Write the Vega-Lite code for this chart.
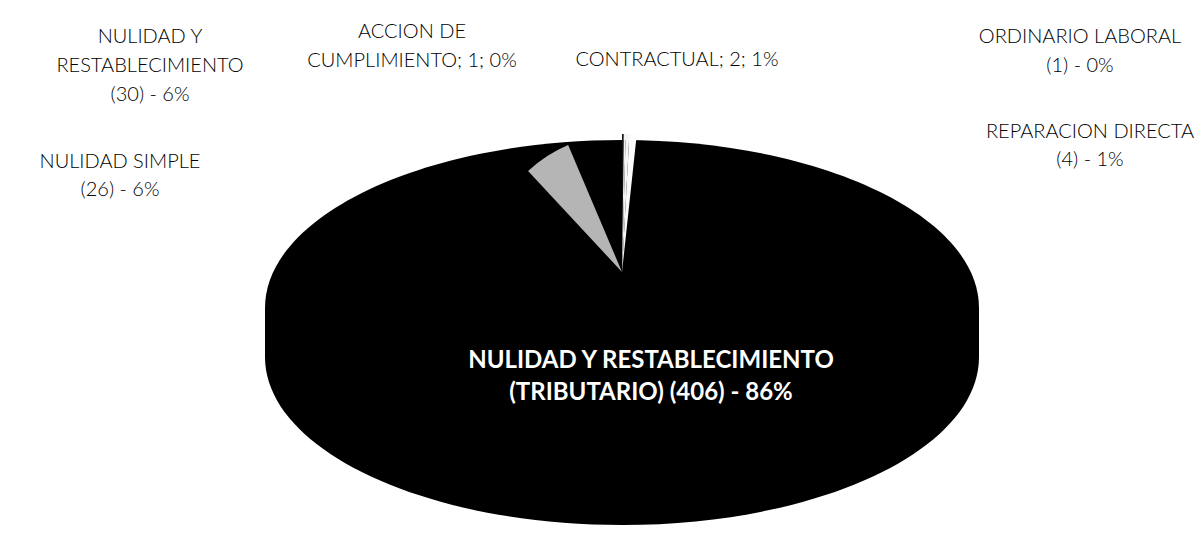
{
  "$schema": "https://vega.github.io/schema/vega-lite/v6.json",
  "width": 1203,
  "height": 554,
  "autosize": {"type": "fit", "contains": "padding"},
  "padding": {"left": 41, "top": 0, "right": 0, "bottom": 10},
  "background": "white",
  "config": {
    "view": {"stroke": null},
    "text": {"font": "Lato", "fontSize": 20, "fontWeight": 300, "color": "#000000", "align": "center", "baseline": "alphabetic", "lineBreak": "\n", "lineHeight": 29}
  },
  "data": {
    "values": [
      {"cat": "ORDINARIO LABORAL", "count": 1, "ord": 1, "label": "ORDINARIO LABORAL\n(1) - 0%"},
      {"cat": "ACCION DE CUMPLIMIENTO", "count": 1, "ord": 2, "label": "ACCION DE\nCUMPLIMIENTO; 1; 0%"},
      {"cat": "CONTRACTUAL", "count": 2, "ord": 3, "label": "CONTRACTUAL; 2; 1%"},
      {"cat": "REPARACION DIRECTA", "count": 4, "ord": 4, "label": "REPARACION DIRECTA\n(4) - 1%"},
      {"cat": "NULIDAD Y RESTABLECIMIENTO (TRIBUTARIO)", "count": 406, "ord": 5, "label": "NULIDAD Y RESTABLECIMIENTO\n(TRIBUTARIO) (406) - 86%"},
      {"cat": "NULIDAD SIMPLE", "count": 26, "ord": 6, "label": "NULIDAD SIMPLE\n(26) - 6%"},
      {"cat": "NULIDAD Y RESTABLECIMIENTO", "count": 30, "ord": 7, "label": "NULIDAD Y\nRESTABLECIMIENTO\n(30) -  6%"}
    ]
  },
  "layer": [
    {
      "transform": [{"aggregate": [{"op": "sum", "field": "count", "as": "total"}]}],
      "mark": {
        "type": "point",
        "filled": true,
        "opacity": 1,
        "color": "black",
        "strokeWidth": 0,
        "size": 40000,
        "shape": "M -3.57 0.36 C -3.57 -0.568 -1.972 -1.32 0 -1.32 C 1.972 -1.32 3.57 -0.568 3.57 0.36 L 3.57 0.85 C 3.57 1.778 1.972 2.53 0 2.53 C -1.972 2.53 -3.57 1.778 -3.57 0.85 Z"
      },
      "encoding": {}
    },
    {
      "mark": {"type": "arc", "radius": 138, "stroke": null},
      "encoding": {
        "theta": {"field": "count", "type": "quantitative", "stack": true},
        "order": {"field": "ord", "type": "quantitative"},
        "color": {
          "field": "cat",
          "type": "nominal",
          "legend": null,
          "scale": {
            "domain": ["ORDINARIO LABORAL", "ACCION DE CUMPLIMIENTO", "CONTRACTUAL", "REPARACION DIRECTA", "NULIDAD Y RESTABLECIMIENTO (TRIBUTARIO)", "NULIDAD SIMPLE", "NULIDAD Y RESTABLECIMIENTO"],
            "range": ["#111111", "#f2f2f2", "#f7f7f7", "#fbfbfb", "transparent", "#b5b5b5", "transparent"]
          }
        }
      }
    },
    {
      "transform": [{"filter": "datum.ord == 7"}],
      "mark": {"type": "text", "dx": -472, "dy": -229},
      "encoding": {"text": {"field": "label"}}
    },
    {
      "transform": [{"filter": "datum.ord == 6"}],
      "mark": {"type": "text", "dx": -502, "dy": -104, "lineHeight": 28},
      "encoding": {"text": {"field": "label"}}
    },
    {
      "transform": [{"filter": "datum.ord == 2"}],
      "mark": {"type": "text", "dx": -210, "dy": -234},
      "encoding": {"text": {"field": "label"}}
    },
    {
      "transform": [{"filter": "datum.ord == 3"}],
      "mark": {"type": "text", "dx": 55, "dy": -206},
      "encoding": {"text": {"field": "label"}}
    },
    {
      "transform": [{"filter": "datum.ord == 1"}],
      "mark": {"type": "text", "dx": 458, "dy": -229},
      "encoding": {"text": {"field": "label"}}
    },
    {
      "transform": [{"filter": "datum.ord == 4"}],
      "mark": {"type": "text", "dx": 468, "dy": -134, "lineHeight": 28},
      "encoding": {"text": {"field": "label"}}
    },
    {
      "transform": [{"filter": "datum.ord == 5"}],
      "mark": {"type": "text", "dx": 29, "dy": 96, "fontSize": 24, "fontWeight": "bold", "color": "white", "lineHeight": 32},
      "encoding": {"text": {"field": "label"}}
    }
  ]
}
